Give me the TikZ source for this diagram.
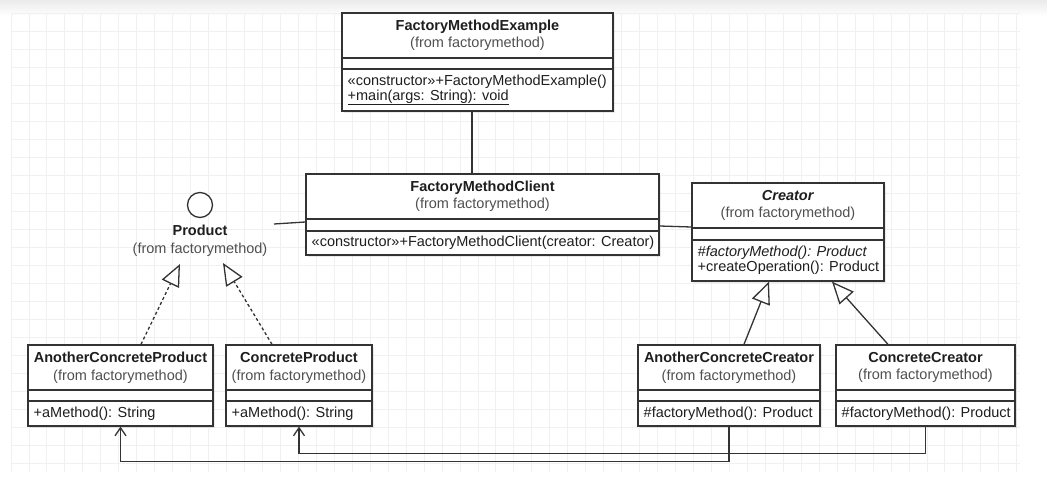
\documentclass[tikz,border=0pt]{standalone}
\usepackage{fontspec}
\setmainfont{Liberation Sans}
\usetikzlibrary{arrows.meta,fit,shadows}
\definecolor{ln}{HTML}{333333}
\definecolor{tx}{HTML}{1E1E1E}
\definecolor{fr}{HTML}{505050}
\definecolor{gridc}{HTML}{F0F0F0}
\newcommand\fromfm{\textcolor{fr}{(from factorymethod)}}
\newcommand\umlclass[9]{%
  \node[classbox, fit={(#2,#3) (#4,#5)}] (#1) {};
  \draw[divl] (#2,#6) -- (#4,#6);
  \draw[divl] (#2,#7) -- (#4,#7);
  \node[ttl] (#1-t) at ({(#2+#4)/2},{(#3+#6)/2}) {#8};
  \node[mth] (#1-m) at ({#2+5.5},{(#7+#5)/2}) {#9};
}
\begin{document}
\begin{tikzpicture}[x=1pt,y=-1pt,
  classbox/.style={draw=ln, line width=1.3pt, fill=white, inner sep=0pt,
    drop shadow={shadow xshift=2pt, shadow yshift=-2pt, fill=black, opacity=0.08}},
  ttl/.style={align=center, font=\fontsize{14.5}{17.5}\selectfont, text=tx, inner sep=0pt},
  mth/.style={align=left, font=\fontsize{14.5}{15}\selectfont, text=tx, inner sep=0pt, anchor=west},
  divl/.style={draw=ln, line width=1.3pt},
  conn/.style={draw=ln, line width=1.3pt},
  real/.style={conn, dash pattern=on 3pt off 2.5pt, -{Triangle[open, length=22pt, width=19pt, fill=white]}},
  gen/.style={conn, -{Triangle[open, length=22pt, width=19pt, fill=white]}},
  dep/.style={conn, -{Straight Barb[length=8pt, width=11pt]}},
]
\useasboundingbox (0,0) rectangle (1047,492);
\fill[white] (0,0) rectangle (1047,492);
\shade[top color=black!8, bottom color=white] (0,0) rectangle (1047,16);
\foreach \i in {0,...,56} \draw[gridc, line width=0.9pt] ({11+17.96*\i},13) -- ({11+17.96*\i},472);
\foreach \j in {0,...,25} \draw[gridc, line width=0.9pt] (11,{13+18*\j}) -- (1020,{13+18*\j});

\umlclass{example}{342}{13}{613}{111}{58}{69}
  {\textbf{FactoryMethodExample}\\\fromfm}
  {«constructor»+FactoryMethodExample()\\\underline{+main(args: String): void}}
\umlclass{client}{306}{174}{659}{255}{219}{231}
  {\textbf{FactoryMethodClient}\\\fromfm}
  {«constructor»+FactoryMethodClient(creator: Creator)}
\umlclass{creator}{692}{183}{884}{281}{228}{240}
  {\textbf{\textit{Creator}}\\\fromfm}
  {\textit{\#factoryMethod(): Product}\\+createOperation(): Product}
\umlclass{acp}{28}{345}{213}{426}{390}{401}
  {\textbf{AnotherConcreteProduct}\\\fromfm}
  {+aMethod(): String}
\umlclass{cp}{226}{345}{372}{426}{390}{401}
  {\textbf{ConcreteProduct}\\\fromfm}
  {+aMethod(): String}
\umlclass{acc}{638}{345}{820}{426}{390}{401}
  {\textbf{AnotherConcreteCreator}\\\fromfm}
  {\#factoryMethod(): Product}
\umlclass{cc}{836}{345}{1015}{426}{390}{401}
  {\textbf{ConcreteCreator}\\\fromfm}
  {\#factoryMethod(): Product}

\node[draw=ln, circle, line width=1.3pt, minimum size=25pt, inner sep=0pt, fill=white] (prodc) at (200,205) {};
\node[ttl] (prod) at (200,241) {\textbf{Product}\\\fromfm};
\coordinate (pcl) at (274,224);
\coordinate (tl) at (180,264);
\coordinate (tr) at (223,263);

\draw[conn] (example.south -| 472,0) -- (client.north -| 472,0);
\draw[conn] (pcl) -- (client.west |- 0,222);
\draw[conn] (client.east |- 0,226) -- (creator.west |- 0,227);

\draw[real] (acp.north -| 141,0) -- (tl);
\draw[real] (cp.north -| 272,0) -- (tr);
\draw[gen] (acc.north -| 744,0) -- (creator.south -| 769,0);
\draw[gen] (cc.north -| 888,0) -- (creator.south -| 832,0);

\draw[dep] (acc.south) -- ++(0,35) -| (acp.south);
\draw[dep] (cc.south) -- ++(0,27) -| (cp.south);
\end{tikzpicture}
\end{document}
